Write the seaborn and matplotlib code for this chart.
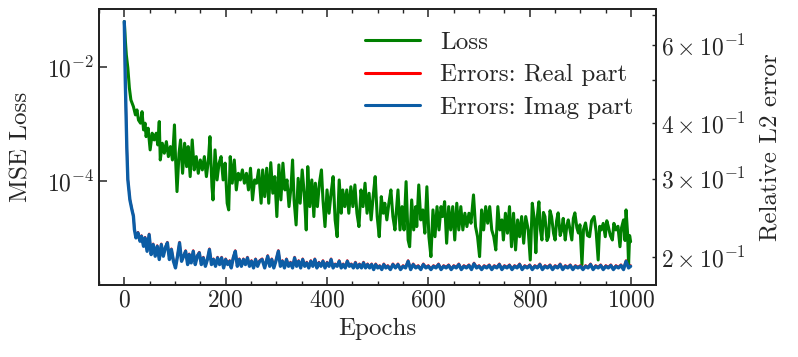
import matplotlib
matplotlib.use("Agg")
import matplotlib.pyplot as plt
import matplotlib.ticker as mticker
import seaborn as sns

# training loss (left log axis)
loss_epochs = [0, 2, 4, 7, 10, 13, 18, 22, 25, 28,
               32, 35, 38, 41, 43, 47, 51, 55, 59, 63,
               66, 69, 71, 75, 79, 83, 87, 91, 95, 99,
               101, 104, 108, 111, 115, 119, 123, 126, 130, 134,
               138, 142, 146, 150, 154, 158, 162, 166, 169, 173,
               175, 179, 183, 187, 191, 195, 199, 203, 206, 209,
               213, 217, 221, 225, 229, 233, 237, 241, 245, 249,
               253, 257, 261, 265, 270, 273, 277, 281, 285, 289,
               293, 297, 301, 305, 309, 313, 317, 321, 325, 329,
               332, 335, 339, 343, 347, 351, 355, 359, 362, 366,
               370, 374, 377, 381, 385, 389, 392, 396, 400, 404,
               408, 412, 416, 420, 424, 428, 431, 435, 439, 443,
               447, 451, 455, 459, 463, 467, 471, 475, 479, 483,
               487, 491, 495, 499, 503, 507, 511, 514, 518, 522,
               526, 530, 534, 540, 544, 548, 552, 556, 560, 563,
               567, 571, 575, 577, 581, 585, 589, 593, 597, 601,
               605, 609, 613, 617, 621, 625, 628, 632, 636, 640,
               644, 648, 652, 656, 660, 664, 668, 672, 676, 680,
               684, 689, 693, 697, 701, 705, 709, 713, 717, 721,
               725, 729, 733, 737, 741, 745, 748, 752, 756, 760,
               764, 768, 772, 776, 780, 784, 788, 792, 797, 801,
               805, 809, 812, 815, 818, 821, 824, 827, 830, 834,
               837, 840, 843, 847, 850, 853, 856, 860, 863, 866,
               870, 873, 876, 880, 883, 886, 889, 893, 896, 899,
               903, 906, 910, 914, 918, 922, 927, 931, 935, 938,
               941, 945, 949, 952, 955, 959, 963, 966, 970, 974,
               978, 981, 985, 988, 990, 993, 995, 997, 999]
loss = [6.24e-2, 2.98e-2, 1.63e-2, 9.6e-3, 4.28e-3, 2.64e-3, 2.01e-3, 1.44e-3, 1.76e-3, 1.17e-3,
        1.03e-3, 1.64e-3, 7.85e-4, 1.03e-3, 5.98e-4, 8.41e-4, 3.50e-4, 6.87e-4, 5.24e-4, 6.87e-4,
        4.28e-4, 1.10e-3, 2.33e-4, 4.58e-4, 3.06e-4, 4.89e-4, 2.67e-4, 4.0e-4, 2.33e-4, 9.6e-4,
        2.67e-4, 6.5e-5, 3.06e-4, 5.24e-4, 1.36e-4, 4.58e-4, 1.78e-4, 4.0e-4, 1.19e-4, 5.24e-4,
        1.56e-4, 2.67e-4, 1.36e-4, 2.33e-4, 1.56e-4, 2.67e-4, 1.19e-4, 2.33e-4, 5.98e-4, 7.9e-5,
        4.64e-5, 3.50e-4, 1.04e-4, 2.05e-4, 2.67e-4, 1.04e-4, 2.05e-4, 4.06e-5, 3.10e-5, 2.67e-4,
        9.12e-5, 2.33e-4, 6.95e-5, 1.36e-4, 1.04e-4, 1.56e-4, 9.12e-5, 1.36e-4, 6.95e-5, 1.67e-4,
        4.64e-5, 1.04e-4, 9.12e-5, 1.56e-4, 4.06e-5, 1.56e-4, 5.3e-5, 1.67e-4, 4.06e-5, 2.09e-4,
        6.08e-5, 1.19e-4, 2.37e-5, 1.91e-4, 4.64e-5, 2.05e-4, 6.95e-5, 1.04e-4, 3.54e-5, 7.9e-5,
        2.33e-4, 4.64e-5, 1.69e-5, 1.11e-4, 4.06e-5, 1.56e-4, 6.08e-5, 1.38e-5, 1.78e-4, 3.54e-5,
        1.04e-4, 2.37e-5, 9.12e-5, 3.54e-5, 9.12e-5, 1.56e-4, 4.64e-5, 1.58e-5, 6.95e-5, 2.71e-5,
        6.08e-5, 1.19e-4, 2.07e-5, 1.05e-5, 1.04e-4, 2.71e-5, 6.95e-5, 3.54e-5, 6.95e-5, 2.71e-5,
        7.9e-5, 3.54e-5, 8.5e-5, 2.71e-5, 1.58e-5, 6.95e-5, 3.54e-5, 9.12e-5, 2.71e-5, 6.08e-5,
        2.07e-5, 5.3e-5, 1.19e-4, 2.37e-5, 1.05e-5, 5.3e-5, 2.71e-5, 4.06e-5, 2.07e-5, 4.06e-5,
        6.95e-5, 2.37e-5, 1.38e-5, 6.95e-5, 1.38e-5, 3.54e-5, 1.38e-5, 9.7e-5, 9.2e-6, 7.0e-6,
        4.64e-5, 1.38e-5, 3.54e-5, 1.58e-5, 8.5e-5, 2.07e-5, 3.10e-5, 1.21e-5, 7.9e-5, 1.05e-5,
        4.7e-6, 3.10e-5, 1.05e-5, 3.54e-5, 1.38e-5, 3.54e-5, 2.37e-5, 4.33e-5, 8.07e-6, 3.54e-5,
        1.38e-5, 3.54e-5, 9.2e-6, 4.06e-5, 1.38e-5, 3.54e-5, 1.38e-5, 2.71e-5, 1.58e-5, 2.71e-5,
        1.81e-5, 5.68e-5, 1.58e-5, 1.05e-5, 4.7e-6, 3.10e-5, 1.38e-5, 3.54e-5, 1.81e-5, 3.54e-5,
        1.38e-5, 1.05e-5, 6.15e-6, 3.54e-5, 1.38e-5, 2.07e-5, 9.2e-6, 2.71e-5, 1.21e-5, 3.54e-5,
        7.0e-6, 2.71e-5, 6.15e-6, 2.07e-5, 1.05e-5, 2.37e-5, 8.07e-6, 2.37e-5, 1.38e-5, 4.1e-6,
        4.06e-5, 2.07e-5, 5.5e-6, 2.4e-5, 4.3e-5, 1.4e-5, 9.2e-6, 2.8e-5, 2.37e-5, 9.0e-6,
        1.05e-5, 3.0e-5, 2.37e-5, 1.2e-5, 9.2e-6, 2.0e-5, 2.75e-5, 1.1e-5, 1.38e-5, 2.2e-5,
        9.2e-6, 1.6e-5, 2.07e-5, 1.3e-5, 9.2e-6, 2.2e-5, 2.75e-5, 1.5e-5, 1.22e-5, 1.7e-5,
        3.4e-6, 1.4e-5, 1.83e-5, 1.1e-5, 1.05e-5, 2.0e-5, 2.37e-5, 1.3e-5, 4.1e-6, 1.6e-5,
        1.38e-5, 1.8e-5, 1.05e-5, 2.0e-5, 1.58e-5, 1.1e-5, 9.2e-6, 1.8e-5, 1.38e-5, 1.6e-5,
        7.0e-6, 1.5e-5, 2.07e-5, 9.0e-6, 3.1e-5, 1.2e-5, 3.4e-6, 1.1e-5, 8.6e-6]

# relative L2 errors (right log axis)
err_epochs = [0, 2, 5, 7, 11, 15, 18, 20, 23, 27,
              31, 34, 38, 41, 45, 49, 53, 57, 61, 65,
              69, 73, 77, 81, 85, 89, 93, 97, 101, 105,
              109, 113, 117, 121, 125, 128, 132, 136, 140, 144,
              148, 152, 156, 160, 164, 168, 172, 176, 180, 184,
              188, 192, 196, 200, 204, 208, 211, 215, 219, 223,
              227, 231, 235, 239, 243, 247, 251, 255, 259, 263,
              267, 272, 277, 283, 287, 291, 295, 299, 304, 308,
              312, 316, 320, 324, 328, 332, 336, 340, 344, 348,
              352, 356, 360, 364, 368, 372, 376, 380, 384, 388,
              392, 396, 400, 404, 408, 412, 416, 420, 424, 428,
              432, 436, 440, 444, 448, 452, 456, 460, 464, 468,
              472, 476, 480, 484, 488, 492, 496, 500, 504, 508,
              512, 516, 520, 525, 530, 535, 540, 545, 550, 555,
              560, 565, 570, 575, 580, 585, 590, 595, 600, 605,
              610, 615, 620, 625, 630, 635, 640, 645, 650, 655,
              660, 665, 670, 675, 680, 685, 690, 695, 700, 705,
              710, 715, 720, 725, 730, 735, 740, 745, 750, 755,
              760, 765, 770, 775, 780, 785, 790, 795, 800, 805,
              810, 815, 820, 825, 830, 835, 840, 845, 850, 855,
              860, 865, 870, 875, 880, 885, 890, 895, 900, 905,
              910, 915, 920, 925, 930, 935, 940, 945, 950, 955,
              960, 965, 970, 975, 980, 985, 990, 995, 999]
err_real = [0.677, 0.497, 0.353, 0.2995, 0.270, 0.2565, 0.248, 0.2314, 0.2217, 0.2275,
            0.2179, 0.2236, 0.2123, 0.2217, 0.2069, 0.2255, 0.2034, 0.2142, 0.2017, 0.2123,
            0.1983, 0.2142, 0.2017, 0.2106, 0.2161, 0.1983, 0.2088, 0.1965, 0.1899, 0.2017,
            0.2161, 0.1965, 0.2017, 0.2069, 0.1932, 0.2034, 0.1949, 0.2069, 0.1932, 0.2017,
            0.2052, 0.1932, 0.2000, 0.1915, 0.1983, 0.2088, 0.1932, 0.1983, 0.1915, 0.2000,
            0.1932, 0.2000, 0.1899, 0.1983, 0.1932, 0.1965, 0.1899, 0.2000, 0.2069, 0.1915,
            0.1983, 0.1915, 0.1983, 0.1932, 0.2000, 0.1915, 0.1965, 0.1899, 0.1983, 0.1915,
            0.1965, 0.1983, 0.1899, 0.2017, 0.1915, 0.1983, 0.1899, 0.1965, 0.2070, 0.1915,
            0.1965, 0.1899, 0.1983, 0.1915, 0.1949, 0.1899, 0.2000, 0.1915, 0.1965, 0.1899,
            0.1983, 0.1915, 0.1949, 0.1899, 0.1965, 0.1915, 0.1983, 0.1899, 0.1949, 0.1915,
            0.1965, 0.1899, 0.1949, 0.1915, 0.1983, 0.1899, 0.1932, 0.1915, 0.1965, 0.1899,
            0.1932, 0.1899, 0.1965, 0.1915, 0.1932, 0.1899, 0.1949, 0.1899, 0.1932, 0.1899,
            0.1949, 0.1899, 0.1932, 0.1899, 0.1932, 0.1883, 0.1932, 0.1899, 0.1915, 0.1883,
            0.1932, 0.1899, 0.1915, 0.1883, 0.1932, 0.1899, 0.1932, 0.1883, 0.1915, 0.1899,
            0.1965, 0.1883, 0.1932, 0.1899, 0.1915, 0.1883, 0.1932, 0.1899, 0.1915, 0.1883,
            0.1915, 0.1899, 0.1932, 0.1883, 0.1915, 0.1899, 0.1923, 0.1883, 0.1915, 0.1899,
            0.1932, 0.1883, 0.1915, 0.1899, 0.1923, 0.1883, 0.1940, 0.1899, 0.1915, 0.1883,
            0.1915, 0.1899, 0.1923, 0.1883, 0.1915, 0.1899, 0.1932, 0.1883, 0.1915, 0.1899,
            0.1923, 0.1883, 0.1915, 0.1899, 0.1932, 0.1883, 0.1915, 0.1899, 0.1923, 0.1883,
            0.1915, 0.1899, 0.1932, 0.1883, 0.1915, 0.1899, 0.1923, 0.1883, 0.1915, 0.1899,
            0.1932, 0.1883, 0.1915, 0.1899, 0.1923, 0.1883, 0.1915, 0.1899, 0.1915, 0.1883,
            0.1915, 0.1899, 0.1932, 0.1883, 0.1915, 0.1899, 0.1923, 0.1883, 0.1915, 0.1899,
            0.1923, 0.1883, 0.1915, 0.1899, 0.1923, 0.1883, 0.1965, 0.1899, 0.1915]
err_imag = [0.677, 0.496, 0.352, 0.2985, 0.269, 0.2555, 0.247, 0.2304, 0.2207, 0.2265,
            0.2169, 0.2226, 0.2113, 0.2207, 0.2059, 0.2245, 0.2024, 0.2132, 0.2007, 0.2113,
            0.1973, 0.2132, 0.2007, 0.2096, 0.2151, 0.1973, 0.2078, 0.1955, 0.1889, 0.2007,
            0.2151, 0.1955, 0.2007, 0.2059, 0.1922, 0.2024, 0.1939, 0.2059, 0.1922, 0.2007,
            0.2042, 0.1922, 0.1990, 0.1905, 0.1973, 0.2078, 0.1922, 0.1973, 0.1905, 0.1990,
            0.1922, 0.1990, 0.1889, 0.1973, 0.1922, 0.1955, 0.1889, 0.1990, 0.2059, 0.1905,
            0.1973, 0.1905, 0.1973, 0.1922, 0.1990, 0.1905, 0.1955, 0.1889, 0.1973, 0.1905,
            0.1955, 0.1973, 0.1889, 0.2007, 0.1905, 0.1973, 0.1889, 0.1955, 0.2060, 0.1905,
            0.1955, 0.1889, 0.1973, 0.1905, 0.1939, 0.1889, 0.1990, 0.1905, 0.1955, 0.1889,
            0.1973, 0.1905, 0.1939, 0.1889, 0.1955, 0.1905, 0.1973, 0.1889, 0.1939, 0.1905,
            0.1955, 0.1889, 0.1939, 0.1905, 0.1973, 0.1889, 0.1922, 0.1905, 0.1955, 0.1889,
            0.1922, 0.1889, 0.1955, 0.1905, 0.1922, 0.1889, 0.1939, 0.1889, 0.1922, 0.1889,
            0.1939, 0.1889, 0.1922, 0.1889, 0.1922, 0.1873, 0.1922, 0.1889, 0.1905, 0.1873,
            0.1922, 0.1889, 0.1905, 0.1873, 0.1922, 0.1889, 0.1922, 0.1873, 0.1905, 0.1889,
            0.1955, 0.1873, 0.1922, 0.1889, 0.1905, 0.1873, 0.1922, 0.1889, 0.1905, 0.1873,
            0.1905, 0.1889, 0.1922, 0.1873, 0.1905, 0.1889, 0.1913, 0.1873, 0.1905, 0.1889,
            0.1922, 0.1873, 0.1905, 0.1889, 0.1913, 0.1873, 0.1930, 0.1889, 0.1905, 0.1873,
            0.1905, 0.1889, 0.1913, 0.1873, 0.1905, 0.1889, 0.1922, 0.1873, 0.1905, 0.1889,
            0.1913, 0.1873, 0.1905, 0.1889, 0.1922, 0.1873, 0.1905, 0.1889, 0.1913, 0.1873,
            0.1905, 0.1889, 0.1922, 0.1873, 0.1905, 0.1889, 0.1913, 0.1873, 0.1905, 0.1889,
            0.1922, 0.1873, 0.1905, 0.1889, 0.1913, 0.1873, 0.1905, 0.1889, 0.1905, 0.1873,
            0.1905, 0.1889, 0.1922, 0.1873, 0.1905, 0.1889, 0.1913, 0.1873, 0.1905, 0.1889,
            0.1913, 0.1873, 0.1905, 0.1889, 0.1913, 0.1873, 0.1955, 0.1889, 0.1905]

sns.set_style("ticks")
plt.rcParams.update({
    "font.family": "serif",
    "font.serif": ["cmr10"],
    "mathtext.fontset": "cm",
    "axes.formatter.use_mathtext": True,
    "font.size": 17,
    "axes.labelsize": 18,
    "xtick.labelsize": 17,
    "ytick.labelsize": 17,
    "legend.fontsize": 18,
    "axes.linewidth": 1.3,
    "axes.edgecolor": "#222222",
    "xtick.direction": "in",
    "ytick.direction": "in",
    "xtick.major.size": 6,
    "ytick.major.size": 6,
    "xtick.minor.size": 3,
    "ytick.minor.size": 3,
    "xtick.major.width": 1.1,
    "ytick.major.width": 1.1,
    "xtick.minor.width": 1.0,
    "ytick.minor.width": 1.0,
})

fig = plt.figure(figsize=(7.98, 3.57), dpi=100)
ax = fig.add_axes([0.124, 0.202, 0.698, 0.773])
ax2 = ax.twinx()

sns.lineplot(x=loss_epochs, y=loss, ax=ax, color="green", linewidth=2.2,
             label="Loss", estimator=None, sort=False, legend=False)
sns.lineplot(x=err_epochs, y=err_real, ax=ax2, color="red", linewidth=1.6,
             label="Errors: Real part", estimator=None, sort=False, legend=False)
sns.lineplot(x=err_epochs, y=err_imag, ax=ax2, color="#0C5DA5", linewidth=2.4,
             label="Errors: Imag part", estimator=None, sort=False, legend=False)

ax.set_yscale("log")
ax.set_ylim(1.5e-6, 1.04e-1)
ax.set_yticks([1e-4, 1e-2])
ax.yaxis.set_minor_locator(mticker.NullLocator())
ax.set_xlim(-50, 1049)
ax.xaxis.set_major_locator(mticker.MultipleLocator(200))
ax.xaxis.set_minor_locator(mticker.MultipleLocator(50))
ax.tick_params(axis="x", which="both", top=True, bottom=True)
ax.tick_params(axis="y", which="both", left=True, right=False)
ax.set_xlabel("Epochs")
ax.set_ylabel("MSE Loss", labelpad=10)

ax2.set_yscale("log")
ax2.set_ylim(0.173, 0.723)
ax2.tick_params(axis="y", which="both", left=False, right=True)
ax2.set_ylabel("Relative L2 error", labelpad=10)

h1, l1 = ax.get_legend_handles_labels()
h2, l2 = ax2.get_legend_handles_labels()
leg = ax2.legend(h1 + h2, l1 + l2, loc="upper right", frameon=False,
                 handlelength=2.2, labelspacing=0.4)
for line in leg.get_lines():
    line.set_linewidth(2.2)

fig.savefig("out.png", dpi=100)
